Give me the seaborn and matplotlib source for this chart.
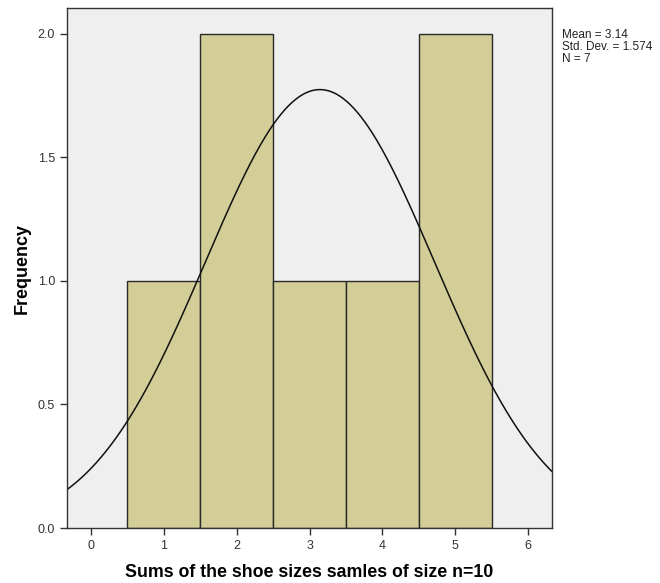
import numpy as np
import pandas as pd
import seaborn as sns
import matplotlib
matplotlib.use("Agg")
import matplotlib.pyplot as plt

# sample sums (counts 1, 2, 1, 1, 2 at 1..5)
sums = [1, 2, 2, 3, 4, 5, 5]
bin_edges = [0.5, 1.5, 2.5, 3.5, 4.5, 5.5]
x_ticks = [0, 1, 2, 3, 4, 5, 6]
y_ticks = [0.0, 0.5, 1.0, 1.5, 2.0]

sns.set_theme(style="white")
plt.rcParams["font.family"] = ["Liberation Sans", "DejaVu Sans"]

data = pd.DataFrame({"sum": sums})
mean = data["sum"].mean()
std = data["sum"].std()
n = len(data)

fig = plt.figure(figsize=(6.6, 5.83), dpi=100)
ax = fig.add_axes([0.1015, 0.0943, 0.735, 0.892])
ax.set_facecolor("#EFEFEF")

sns.histplot(
    data=data,
    x="sum",
    bins=bin_edges,
    color="#D3CE97",
    edgecolor="#2a2a2a",
    linewidth=1.0,
    alpha=1.0,
    ax=ax,
)

# fitted normal curve scaled to counts
xs = np.linspace(-0.33, 6.33, 400)
ys = n * 1.0 * np.exp(-0.5 * ((xs - mean) / std) ** 2) / (std * np.sqrt(2 * np.pi))
ax.plot(xs, ys, color="#111111", linewidth=1.1)

ax.set_xlim(-0.33, 6.33)
ax.set_ylim(0, 2.105)
ax.set_xticks(x_ticks)
ax.set_yticks(y_ticks)
ax.set_yticklabels([f"{t:.1f}" for t in y_ticks])

for s in ax.spines.values():
    s.set_color("#333333")
    s.set_linewidth(1.0)
ax.tick_params(axis="both", direction="out", length=5, width=1, color="#333333",
               labelsize=9, labelcolor="#333333", left=True, bottom=True)

ax.set_xlabel("Sums of the shoe sizes samles of size n=10", fontsize=12.8,
              fontweight="bold", labelpad=9, color="black")
ax.set_ylabel("Frequency", fontsize=13, fontweight="bold", labelpad=5,
              color="black")

fig.text(562 / 660, 1 - 29 / 583,
         f"Mean = {mean:.2f}\nStd. Dev. = {std:.3f}\nN = {n}",
         fontsize=8.5, va="top", ha="left", color="#222222", linespacing=1.0)

fig.savefig("out.png", dpi=100)
